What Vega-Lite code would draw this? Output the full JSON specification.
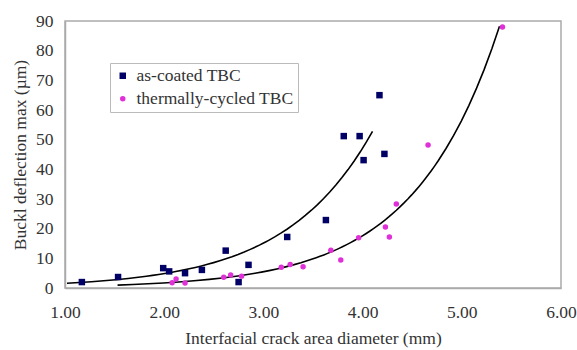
{
  "$schema": "https://vega.github.io/schema/vega-lite/v6.json",
  "width": 496,
  "height": 267,
  "autosize": "none",
  "padding": {"left": 65, "top": 21, "right": 16, "bottom": 62},
  "background": "white",
  "config": {
    "font": "Liberation Serif, Times New Roman, serif",
    "view": {"stroke": "#aaaaaa", "strokeWidth": 1.5},
    "axis": {
      "labelFont": "Liberation Serif, Times New Roman, serif",
      "labelFontSize": 17.5,
      "labelColor": "#333333",
      "titleFont": "Liberation Serif, Times New Roman, serif",
      "titleFontSize": 17.5,
      "titleFontWeight": "normal",
      "titleColor": "#333333",
      "grid": false,
      "ticks": false,
      "labelFlush": false,
      "labelOverlap": false,
      "domainColor": "#aaaaaa",
      "domainWidth": 1.5
    },
    "legend": {"labelFont": "Liberation Serif, Times New Roman, serif"}
  },
  "data": {
    "values": [
      {"d": 1.17, "v": 2.0, "s": "as-coated TBC"},
      {"d": 1.535, "v": 3.7, "s": "as-coated TBC"},
      {"d": 1.99, "v": 6.7, "s": "as-coated TBC"},
      {"d": 2.05, "v": 5.6, "s": "as-coated TBC"},
      {"d": 2.21, "v": 5.0, "s": "as-coated TBC"},
      {"d": 2.38, "v": 6.1, "s": "as-coated TBC"},
      {"d": 2.62, "v": 12.6, "s": "as-coated TBC"},
      {"d": 2.75, "v": 2.0, "s": "as-coated TBC"},
      {"d": 2.85, "v": 7.8, "s": "as-coated TBC"},
      {"d": 3.24, "v": 17.2, "s": "as-coated TBC"},
      {"d": 3.63, "v": 22.9, "s": "as-coated TBC"},
      {"d": 3.81, "v": 51.2, "s": "as-coated TBC"},
      {"d": 3.97, "v": 51.2, "s": "as-coated TBC"},
      {"d": 4.01, "v": 43.1, "s": "as-coated TBC"},
      {"d": 4.17, "v": 65.0, "s": "as-coated TBC"},
      {"d": 4.22, "v": 45.2, "s": "as-coated TBC"},
      {"d": 2.08, "v": 1.8, "s": "thermally-cycled TBC"},
      {"d": 2.12, "v": 3.0, "s": "thermally-cycled TBC"},
      {"d": 2.21, "v": 1.7, "s": "thermally-cycled TBC"},
      {"d": 2.60, "v": 3.6, "s": "thermally-cycled TBC"},
      {"d": 2.67, "v": 4.4, "s": "thermally-cycled TBC"},
      {"d": 2.78, "v": 4.0, "s": "thermally-cycled TBC"},
      {"d": 3.18, "v": 7.0, "s": "thermally-cycled TBC"},
      {"d": 3.27, "v": 7.9, "s": "thermally-cycled TBC"},
      {"d": 3.40, "v": 7.2, "s": "thermally-cycled TBC"},
      {"d": 3.68, "v": 12.7, "s": "thermally-cycled TBC"},
      {"d": 3.78, "v": 9.4, "s": "thermally-cycled TBC"},
      {"d": 3.96, "v": 16.9, "s": "thermally-cycled TBC"},
      {"d": 4.23, "v": 20.6, "s": "thermally-cycled TBC"},
      {"d": 4.27, "v": 17.2, "s": "thermally-cycled TBC"},
      {"d": 4.34, "v": 28.3, "s": "thermally-cycled TBC"},
      {"d": 4.66, "v": 48.2, "s": "thermally-cycled TBC"},
      {"d": 5.41, "v": 88.0, "s": "thermally-cycled TBC"}
    ]
  },
  "encoding": {
    "x": {
      "field": "d",
      "type": "quantitative",
      "title": "Interfacial crack area diameter (mm)",
      "scale": {"domain": [1, 6], "nice": false, "zero": false},
      "axis": {"values": [1, 2, 3, 4, 5, 6], "format": ".2f", "labelPadding": 15, "titlePadding": 9}
    },
    "y": {
      "field": "v",
      "type": "quantitative",
      "title": "Buckl deflection max (µm)",
      "scale": {"domain": [0, 90], "nice": false},
      "axis": {"values": [0, 10, 20, 30, 40, 50, 60, 70, 80, 90], "tickCount": 10, "labelPadding": 12, "titlePadding": 6}
    }
  },
  "layer": [
    {
      "transform": [
        {"filter": "datum.s === 'as-coated TBC'"},
        {"regression": "v", "on": "d", "method": "exp", "extent": [1.02, 4.1]}
      ],
      "mark": {"type": "line", "color": "black", "strokeWidth": 1.6, "clip": true}
    },
    {
      "transform": [
        {"filter": "datum.s === 'thermally-cycled TBC'"},
        {"regression": "v", "on": "d", "method": "exp", "extent": [1.53, 5.38]}
      ],
      "mark": {"type": "line", "color": "black", "strokeWidth": 1.6, "clip": true}
    },
    {
      "mark": {"type": "point", "filled": true, "opacity": 1},
      "encoding": {
        "color": {
          "field": "s",
          "type": "nominal",
          "scale": {"domain": ["as-coated TBC", "thermally-cycled TBC"], "range": ["#000066", "#e030d8"]},
          "legend": {
            "title": null,
            "orient": "none",
            "legendX": 45,
            "legendY": 42,
            "labelFont": "Liberation Serif, Times New Roman, serif",
            "labelFontSize": 17.5,
            "labelColor": "#333333",
            "fillColor": "white",
            "strokeColor": "#bbbbbb",
            "padding": 4,
            "rowPadding": 4,
            "symbolSize": 40,
            "labelOffset": 5
          }
        },
        "shape": {
          "field": "s",
          "type": "nominal",
          "scale": {"domain": ["as-coated TBC", "thermally-cycled TBC"], "range": ["square", "circle"]}
        },
        "size": {
          "field": "s",
          "type": "nominal",
          "scale": {"domain": ["as-coated TBC", "thermally-cycled TBC"], "range": [42, 30]},
          "legend": null
        }
      }
    }
  ]
}
